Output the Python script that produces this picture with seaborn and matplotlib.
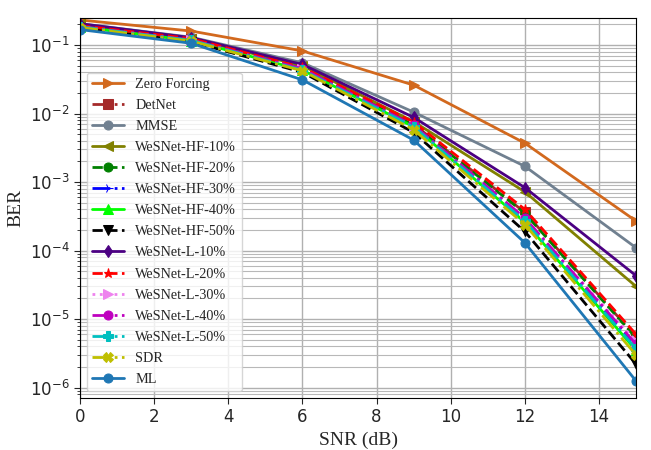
# BER vs SNR curves for the detectors -> out.png

import matplotlib.pyplot as plt
import numpy as np
import seaborn as sns
from matplotlib.ticker import LogLocator, NullFormatter

SNR = [0, 3, 6, 9, 12, 15]

zero_forcing = [0.232, 0.160, 0.082, 0.026, 3.7e-3, 2.7e-4]
detnet = [0.190, 0.122, 0.046, 0.0070, 3.6e-4, 5.5e-6]
mmse = [0.205, 0.130, 0.055, 0.0105, 1.7e-3, 1.1e-4]
hf_10 = [0.200, 0.124, 0.050, 0.0076, 7.2e-4, 3.0e-5]
hf_20 = [0.188, 0.120, 0.045, 0.0068, 3.5e-4, 5.3e-6]
hf_30 = [0.185, 0.118, 0.044, 0.0066, 2.9e-4, 4.0e-6]
hf_40 = [0.183, 0.116, 0.043, 0.0064, 2.6e-4, 3.5e-6]
hf_50 = [0.178, 0.112, 0.040, 0.0053, 1.9e-4, 2.2e-6]
l_10 = [0.205, 0.128, 0.052, 0.0088, 8.3e-4, 4.3e-5]
l_20 = [0.192, 0.124, 0.047, 0.0075, 4.0e-4, 6.0e-6]
l_30 = [0.184, 0.117, 0.044, 0.0065, 2.8e-4, 4.8e-6]
l_40 = [0.186, 0.118, 0.045, 0.0067, 3.0e-4, 4.3e-6]
l_50 = [0.184, 0.117, 0.043, 0.0064, 2.7e-4, 3.7e-6]
sdr = [0.180, 0.114, 0.042, 0.0058, 2.4e-4, 3.0e-6]
ml = [0.168, 0.106, 0.031, 0.0041, 1.3e-4, 1.25e-6]

# label, values, color, marker, linestyle
CURVES = [
    ("Zero Forcing", zero_forcing, "chocolate", ">", "-"),
    ("DetNet", detnet, "brown", "s", "-."),
    ("MMSE", mmse, "slategray", "o", "-"),
    ("WeSNet-HF-10%", hf_10, "olive", "<", "-"),
    ("WeSNet-HF-20%", hf_20, "green", "o", "--"),
    ("WeSNet-HF-30%", hf_30, "blue", "4", "-."),
    ("WeSNet-HF-40%", hf_40, "lime", "^", "-"),
    ("WeSNet-HF-50%", hf_50, "black", "v", "--"),
    ("WeSNet-L-10%", l_10, "indigo", "d", "-"),
    ("WeSNet-L-20%", l_20, "red", "*", "--"),
    ("WeSNet-L-30%", l_30, "violet", ">", ":"),
    ("WeSNet-L-40%", l_40, "m", "o", "-."),
    ("WeSNet-L-50%", l_50, "c", "P", "-."),
    ("SDR", sdr, "y", "X", "-."),
    ("ML", ml, "tab:blue", "o", "-"),
]


def main():
    sns.set_style("white")
    plt.rcParams["font.family"] = ["Liberation Serif", "DejaVu Serif"]
    plt.rcParams["mathtext.fontset"] = "dejavusans"

    fig = plt.figure(figsize=(6.51, 4.5), dpi=100)
    ax = fig.add_axes([0.123, 0.116, 0.854, 0.844])

    for label, vals, color, marker, ls in CURVES:
        sns.lineplot(
            x=SNR, y=vals, ax=ax, color=color, marker=marker, linestyle=ls,
            linewidth=2, markersize=6.5, markeredgecolor=color, label=label,
        )

    ax.set_yscale("log")
    ax.set_xlim(0, 15)
    ax.set_ylim(7.1e-7, 0.248)
    ax.yaxis.set_major_locator(LogLocator(base=10, numticks=12))
    ax.yaxis.set_minor_locator(LogLocator(base=10, subs=np.arange(2, 10), numticks=12))
    ax.yaxis.set_minor_formatter(NullFormatter())
    ax.grid(True, which="major", color="#b0b0b0", linewidth=1)
    ax.grid(True, which="minor", axis="y", color="#b8b8b8", linewidth=0.8)
    ax.tick_params(axis="both", which="major", direction="out", length=4, labelsize=12, left=True, bottom=True)
    ax.tick_params(axis="y", which="minor", direction="out", length=2, left=True)
    for t in ax.get_xticklabels() + ax.get_yticklabels():
        t.set_fontfamily("DejaVu Sans")
    for s in ax.spines.values():
        s.set_color("black")

    ax.set_xlabel("SNR (dB)", fontsize=14)
    ax.set_ylabel("BER", fontsize=14)
    ax.legend(loc="lower left", fontsize=10.3, framealpha=0.8, handlelength=2.2,
              labelspacing=0.56, borderaxespad=0.45)

    fig.savefig("out.png", dpi=100)
    plt.close(fig)


if __name__ == "__main__":
    main()
